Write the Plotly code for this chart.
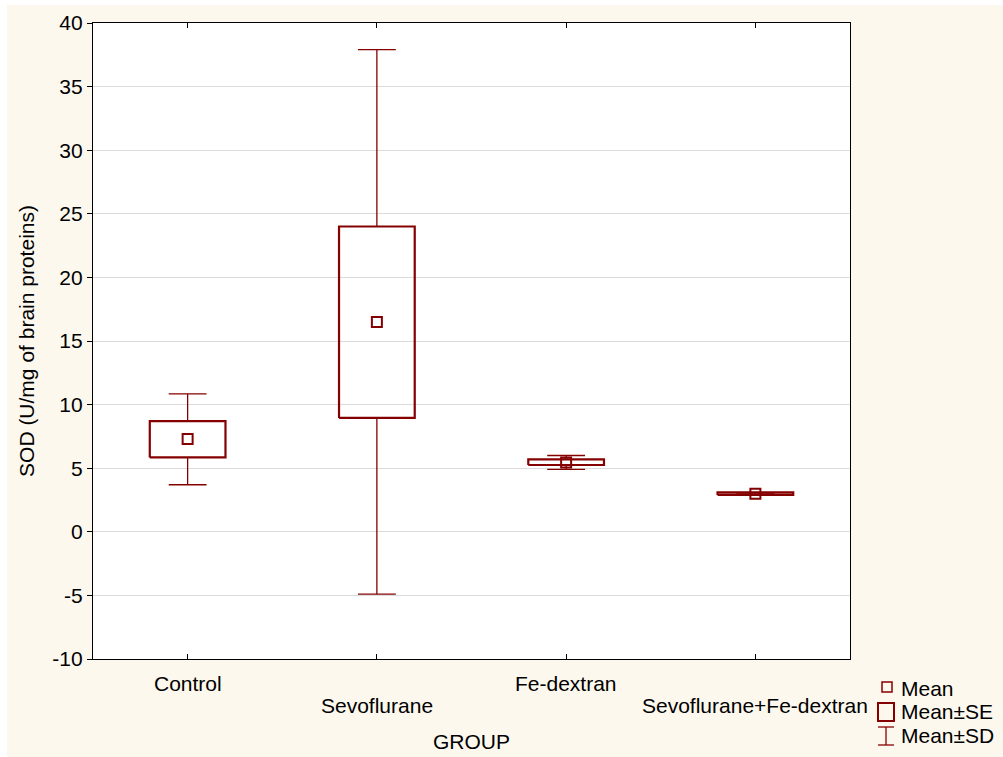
import plotly.graph_objects as go

categories = ["Control", "Sevoflurane", "Fe-dextran", "Sevoflurane+Fe-dextran"]
mean_vals = [7.3, 16.5, 5.45, 3.0]
se_low = [5.85, 8.95, 5.25, 2.9]
se_high = [8.7, 24.0, 5.7, 3.1]
sd_low = [3.7, -4.9, 4.9, 2.95]
sd_high = [10.85, 37.9, 6.0, 3.05]
y_ticks = [-10, -5, 0, 5, 10, 15, 20, 25, 30, 35, 40]
y_tick_labels = ["-10", "-5", "0", "5", "10", "15", "20", "25", "30", "35", "40"]

RED = "#850000"
FONT = "Liberation Sans, Arial, sans-serif"
FS = 21
BOX_HW = 0.2
CAP_HW = 0.1

fig = go.Figure()

# whiskers (SD)
wx, wy = [], []
for i in range(len(categories)):
    wx += [i, i, None, i, i, None,
           i - CAP_HW, i + CAP_HW, None, i - CAP_HW, i + CAP_HW, None]
    wy += [se_high[i], sd_high[i], None, se_low[i], sd_low[i], None,
           sd_high[i], sd_high[i], None, sd_low[i], sd_low[i], None]
fig.add_trace(go.Scatter(x=wx, y=wy, mode="lines", line=dict(color=RED, width=1.3),
                         showlegend=False, hoverinfo="skip"))

# SE boxes
bx, by = [], []
for i in range(len(categories)):
    bx += [i - BOX_HW, i + BOX_HW, i + BOX_HW, i - BOX_HW, i - BOX_HW, None]
    by += [se_low[i], se_low[i], se_high[i], se_high[i], se_low[i], None]
fig.add_trace(go.Scatter(x=bx, y=by, mode="lines", line=dict(color=RED, width=2.2),
                         showlegend=False, hoverinfo="skip"))

# means
fig.add_trace(go.Scatter(x=list(range(len(categories))), y=mean_vals, mode="markers",
                         marker=dict(symbol="square-open", size=10, color=RED,
                                     line=dict(width=2, color=RED)),
                         showlegend=False))

def px(xpix):
    return (xpix - 93) / 757

def py(ypix):
    return (659 - ypix) / 636

# background panels
fig.add_shape(type="rect", xref="paper", yref="paper", x0=px(7), x1=px(1010),
              y0=py(765), y1=py(5), fillcolor="#FCF8EE", line_width=0, layer="below")
fig.add_shape(type="rect", xref="paper", yref="paper", x0=0, x1=1, y0=0, y1=1,
              fillcolor="white", line_width=0, layer="below")

# staggered category labels
for i, c in enumerate(categories):
    fig.add_annotation(x=i, xref="x", y=py(683 if i % 2 == 0 else 705), yref="paper",
                       text=c, showarrow=False, yanchor="middle",
                       font=dict(family=FONT, size=FS, color="black"))

fig.add_annotation(x=0.5, xref="paper", y=py(741), yref="paper", text="GROUP",
                   showarrow=False, yanchor="middle",
                   font=dict(family=FONT, size=FS, color="black"))

# legend (custom)
fig.add_shape(type="rect", xref="paper", yref="paper", x0=px(882), x1=px(892),
              y0=py(692), y1=py(682), line=dict(color=RED, width=1.5))
fig.add_shape(type="rect", xref="paper", yref="paper", x0=px(878), x1=px(894),
              y0=py(721), y1=py(703), line=dict(color=RED, width=2))
fig.add_shape(type="line", xref="paper", yref="paper", x0=px(886), x1=px(886),
              y0=py(745), y1=py(727), line=dict(color=RED, width=1.3))
fig.add_shape(type="line", xref="paper", yref="paper", x0=px(878), x1=px(894),
              y0=py(727), y1=py(727), line=dict(color=RED, width=1.3))
fig.add_shape(type="line", xref="paper", yref="paper", x0=px(878), x1=px(894),
              y0=py(745), y1=py(745), line=dict(color=RED, width=1.3))
for txt, ypix in [("Mean", 688), ("Mean±SE", 711), ("Mean±SD", 735)]:
    fig.add_annotation(x=px(899), xref="paper", y=py(ypix), yref="paper", text=txt,
                       showarrow=False, xanchor="left", yanchor="middle",
                       font=dict(family=FONT, size=FS, color="black"))

fig.update_layout(
    width=1003, height=757,
    margin=dict(l=93, r=153, t=23, b=98),
    paper_bgcolor="white", plot_bgcolor="white",
    font=dict(family=FONT, size=FS, color="black"),
    showlegend=False,
)
fig.update_xaxes(range=[-0.5, 3.5], tickvals=list(range(len(categories))),
                 ticktext=["" for _ in categories], ticks="inside", ticklen=5,
                 tickcolor="black", showgrid=False, zeroline=False,
                 showline=True, linecolor="black", linewidth=1.2, mirror="ticks")
fig.update_yaxes(range=[-10, 40], tickvals=y_ticks, ticktext=y_tick_labels,
                 ticks="outside", ticklen=5,
                 tickcolor="black", showgrid=True, gridcolor="#DCDCDC", gridwidth=1,
                 zeroline=False, showline=True, linecolor="black", linewidth=1.2,
                 mirror=True, tickfont=dict(size=FS, family=FONT),
                 title=dict(text="SOD (U/mg of brain proteins)",
                            font=dict(size=FS, family=FONT), standoff=11))

fig.write_html("out.html", config={"displayModeBar": False},
               post_script="document.body.style.margin='0';")
